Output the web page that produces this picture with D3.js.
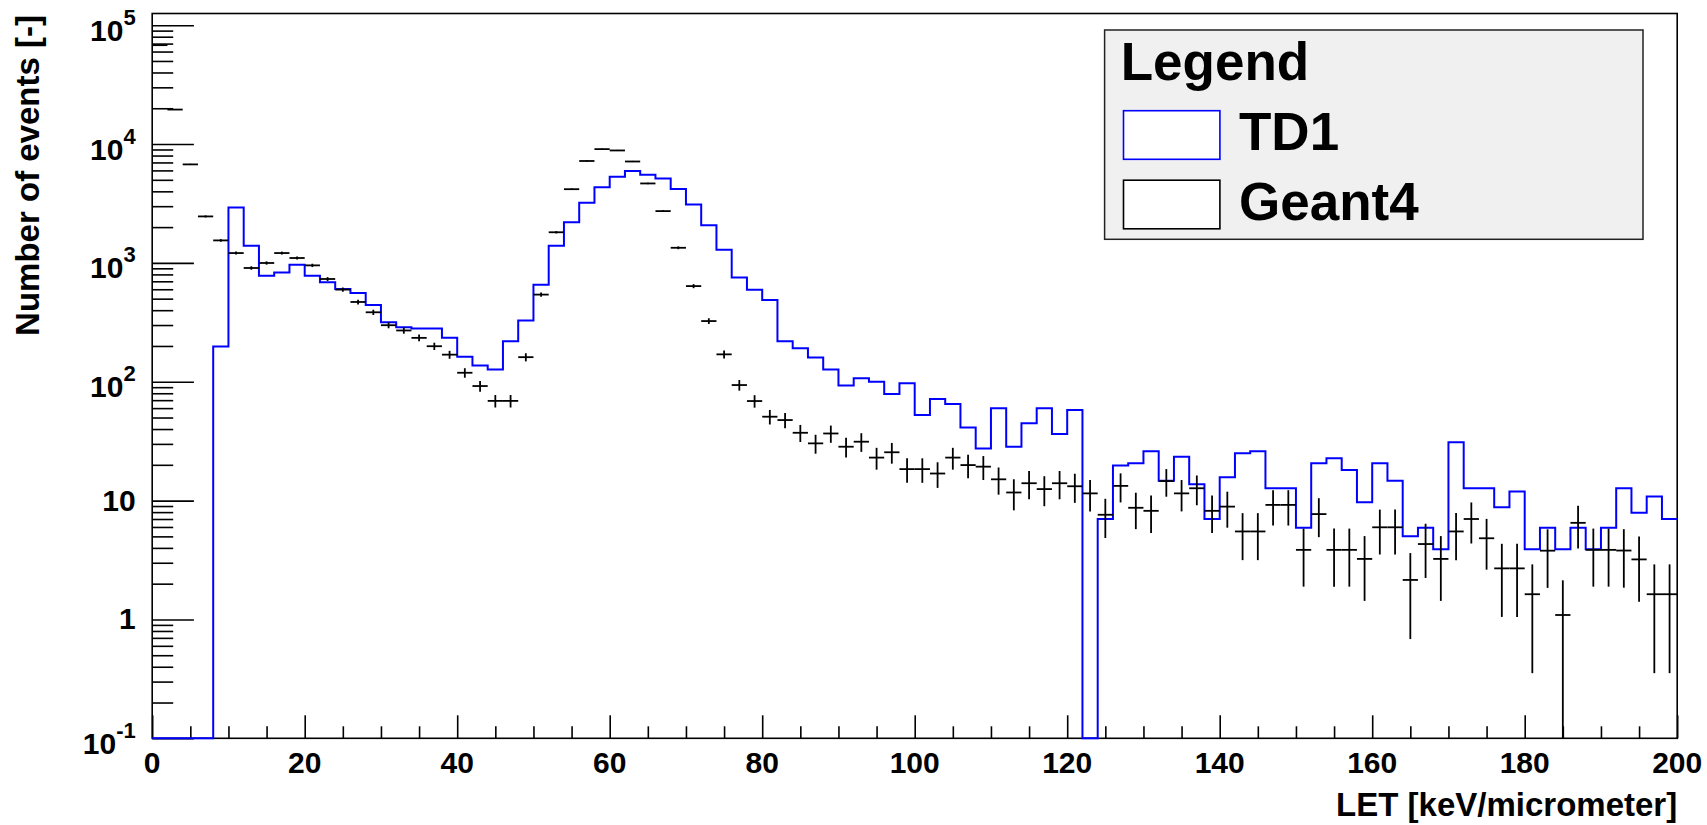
<!DOCTYPE html>
<html>
<head>
<meta charset="utf-8">
<script src="https://cdn.jsdelivr.net/npm/d3@7/dist/d3.min.js"></script>
<style>
html,body{margin:0;padding:0;background:#fff;}
svg{display:block;font-family:"Liberation Sans",Arial,Helvetica,sans-serif;font-weight:bold;}
</style>
</head>
<body>
<svg id="chart" width="1707" height="825"></svg>
<script>
// LET bins, lower edge in keV/micrometer, each bin 2 wide
var binLow = [0,2,4,6,8,10,12,14,16,18,20,22,24,26,28,30,32,34,36,38,40,42,44,46,48,50,52,54,56,58,60,62,64,66,68,70,72,74,76,78,80,82,84,86,88,90,92,94,96,98,100,102,104,106,108,110,112,114,116,118,120,122,124,126,128,130,132,134,136,138,140,142,144,146,148,150,152,154,156,158,160,162,164,166,168,170,172,174,176,178,180,182,184,186,188,190,192,194,196,198];
var binWidth = 2;

// TD1 histogram (blue line)
var td1Counts = [0,0,0,0,198,2925,1394,781,832,966,
  781,687,604,558,443,317,288,280,280,234,
  162,137,127,219,327,656,1394,2200,3210,4320,
  5300,5920,5510,5140,4180,3100,2070,1290,755,594,
  487,219,191,160,127,93,107,100,79,97,
  52.5,71.5,65,41.3,27.5,59.7,28.4,44.7,59.7,36.3,
  57.8,0,7.0,19.7,20.6,26,14.7,23.4,13.7,7.0,
  15.7,25,26,12.7,12.7,5.9,20.6,22.7,18.1,9.7,
  20.6,14.7,5.0,5.9,3.9,30.9,12.7,12.7,8.8,11.9,
  3.9,5.9,3.9,5.9,3.9,5.9,12.7,7.9,10.8,7.0];

// Geant4 histogram (black points with errors)
var geant4Counts = [67900,19500,6740,2460,1546,1210,906,998,1210,1099,
  953,732,596,469,384,299,270,234,199,169,
  119,92,69,69,161,541,1810,4170,7200,9060,
  8830,7130,4660,2727,1340,638,324,170,93.8,68.8,
  50.8,47.6,37.2,30.3,36.7,28.4,31.3,23,25.5,18.4,
  18.4,16.9,23,19.9,19.3,15.1,11.7,14.0,12.5,14.0,
  13.2,11.5,7.6,13.3,8.7,8.2,14.6,11.5,12.7,8.2,
  8.9,5.5,5.5,9.2,9.2,3.85,7.7,3.85,3.85,3.23,
  5.96,5.96,2.15,4.31,3.23,5.5,7.0,4.82,2.69,2.69,
  1.63,3.79,1.09,6.5,3.85,3.85,3.8,3.2,1.63,1.63];

var xMajorTicks = [0,20,40,60,80,100,120,140,160,180,200];
var xMinorTicks = [5,10,15,25,30,35,45,50,55,65,70,75,85,90,95,105,110,115,125,130,135,145,150,155,165,170,175,185,190,195];
var yDecades = [0.1,1,10,100,1000,10000,100000];
var yDecadeBase = ["10","1","10","10","10","10","10"];
var yDecadeExp = ["-1","","","2","3","4","5"];

var seriesNames = ["TD1","Geant4"];
var seriesColors = ["#0000ff","#000000"];

var svg = d3.select("#chart");
var pL = 152.2, pR = 1677.2, pT = 13.5, pB = 738.3;
var yMin = 0.1, yMax = 1.254e5;

var x = d3.scaleLinear().domain([0,200]).range([pL,pR]);
var y = d3.scaleLog().domain([yMin,yMax]).range([pB,pT]).clamp(true);

// minor y ticks 2..9 per decade inside the range
var yMinorTicks = [];
yDecades.forEach(function(d){
  for(var k=2;k<=9;k++){ if(d*k<yMax) yMinorTicks.push(d*k); }
});

// ticks (drawn inward like ROOT)
function ticks(axis, tr){
  var g = svg.append("g").attr("transform",tr).call(axis);
  g.select(".domain").remove();
  g.selectAll("line").attr("stroke","#000").attr("stroke-width",1.6);
  return g;
}
ticks(d3.axisBottom(x).tickValues(xMajorTicks).tickSize(-23).tickFormat(""), "translate(0,"+pB+")");
ticks(d3.axisBottom(x).tickValues(xMinorTicks).tickSize(-12).tickFormat(""), "translate(0,"+pB+")");
ticks(d3.axisLeft(y).tickValues(yDecades).tickSize(-41.7).tickFormat(""), "translate("+pL+",0)");
ticks(d3.axisLeft(y).tickValues(yMinorTicks).tickSize(-21).tickFormat(""), "translate("+pL+",0)");

// frame
svg.append("rect").attr("x",pL).attr("y",pT).attr("width",pR-pL).attr("height",pB-pT)
  .attr("fill","none").attr("stroke","#000").attr("stroke-width",1.6);

// tick labels
svg.selectAll(".xlab").data(xMajorTicks).join("text")
  .attr("x",function(d){return x(d);}).attr("y",pB+35)
  .attr("text-anchor","middle").attr("font-size","30px").text(function(d){return d;});

var ylab = svg.selectAll(".ylab").data(yDecades).join("text")
  .attr("x",pL-16.5)
  .attr("y",function(d,i){return y(d)+(yDecadeExp[i]?15.5:10);})
  .attr("text-anchor","end").attr("font-size","30px");
ylab.append("tspan").text(function(d,i){return yDecadeBase[i];});
ylab.append("tspan").attr("font-size","22px").attr("dy",-16).text(function(d,i){return yDecadeExp[i];});

// axis titles
svg.append("text").attr("x",pR).attr("y",816).attr("text-anchor","end")
  .attr("font-size","33px").text("LET [keV/micrometer]");
svg.append("text").attr("transform","translate(38.5,"+(pT+1.5)+") rotate(-90)").attr("text-anchor","end")
  .attr("font-size","33px").text("Number of events [-]");

// TD1 step outline
var pts = [[x(binLow[0]), y(yMin)]];
td1Counts.forEach(function(v,i){
  var yy = y(Math.max(v,yMin));
  pts.push([x(binLow[i]),yy]);
  pts.push([x(binLow[i]+binWidth),yy]);
});
svg.append("path").attr("d",d3.line()(pts)).attr("fill","none")
  .attr("stroke",seriesColors[0]).attr("stroke-width",2);

// Geant4 crosses: bin width horizontally, sqrt(N) vertically
var g4 = svg.append("g").attr("stroke",seriesColors[1]).attr("stroke-width",1.8);
geant4Counts.forEach(function(v,i){
  if(v<=0) return;
  var e = Math.sqrt(v), xc = x(binLow[i]+binWidth/2);
  g4.append("line").attr("x1",x(binLow[i])).attr("x2",x(binLow[i]+binWidth)).attr("y1",y(v)).attr("y2",y(v));
  g4.append("line").attr("x1",xc).attr("x2",xc).attr("y1",y(Math.max(v-e,yMin))).attr("y2",y(v+e));
});

// legend
var lg = svg.append("g");
lg.append("rect").attr("x",1104.6).attr("y",30).attr("width",538.4).attr("height",209.3)
  .attr("fill","#f0f0f0").attr("stroke","#222").attr("stroke-width",1.5);
lg.append("text").attr("x",1120.7).attr("y",80).attr("font-size","53px").text("Legend");
seriesNames.forEach(function(n,i){
  lg.append("rect").attr("x",1123.5).attr("y",110.7+i*69.5).attr("width",96.4).attr("height",48.6)
    .attr("fill","#fff").attr("stroke",seriesColors[i]).attr("stroke-width",1.6);
  lg.append("text").attr("x",1239).attr("y",150+i*70).attr("font-size","53px").text(n);
});
</script>
</body>
</html>
